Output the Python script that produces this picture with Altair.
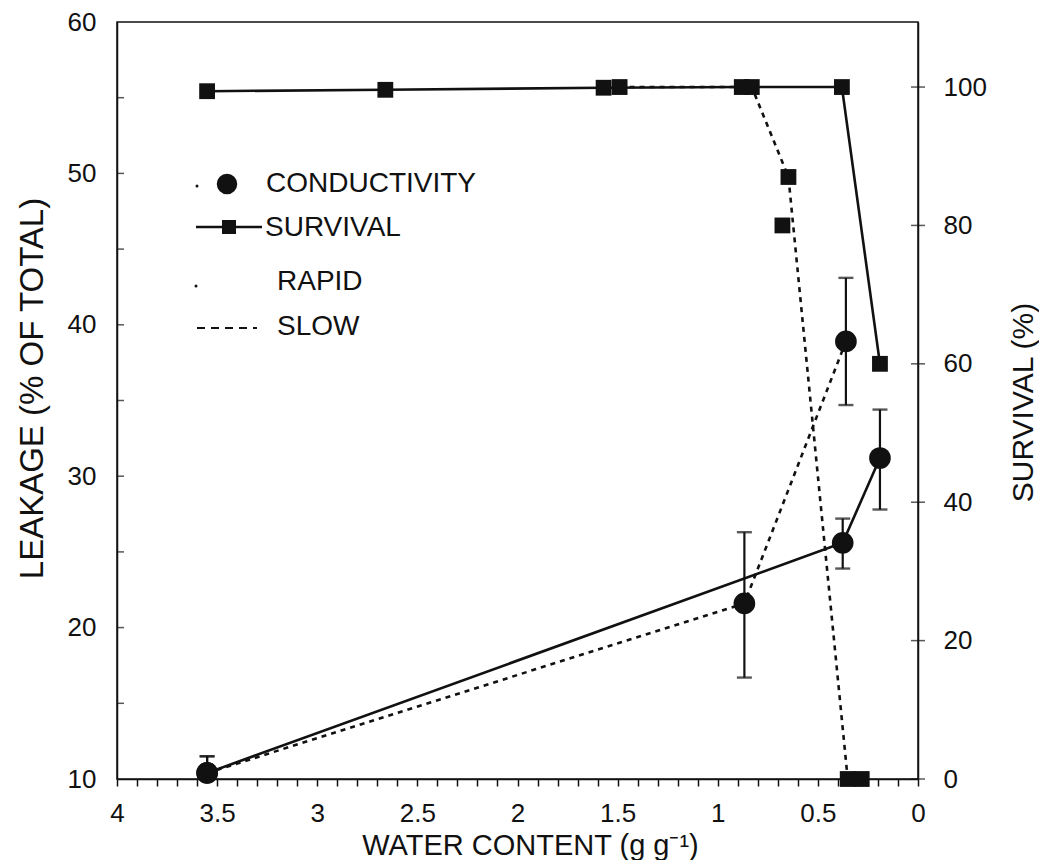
import altair as alt
import pandas as pd

# ---------------- data ----------------
# Conductivity (leakage, % of total) - rapid drying (solid line)
rapid_cond_x = [3.55, 0.376, 0.19]
rapid_cond_y = [10.4, 25.6, 31.2]
rapid_cond_lo = [9.3, 23.9, 27.8]
rapid_cond_hi = [11.5, 27.2, 34.4]

# Conductivity - slow drying (dashed line)
slow_cond_x = [3.55, 0.867, 0.36]
slow_cond_y = [10.4, 21.6, 38.9]
slow_cond_lo = [9.3, 16.7, 34.7]
slow_cond_hi = [11.5, 26.3, 43.1]

# Survival (%) - rapid drying (solid line)
rapid_surv_x = [3.55, 2.66, 1.57, 0.88, 0.38, 0.19]
rapid_surv_y = [99.4, 99.6, 99.9, 100, 100, 60]

# Survival (%) - slow drying (dashed line)
slow_surv_x = [1.49, 0.83, 0.647, 0.351, 0.281]
slow_surv_y = [100, 100, 87, 0, 0]

# isolated survival point
extra_surv_x = [0.677]
extra_surv_y = [80]

legend_labels = ["CONDUCTIVITY", "SURVIVAL", "RAPID", "SLOW"]

left_tick_values = [15, 20, 25, 30, 35, 40, 45, 50, 55]
left_label_values = [10, 20, 30, 40, 50, 60]
right_tick_values = [0, 20, 40, 60, 80, 100]

FONT = "Liberation Sans"

# ---------------- tables ----------------
rapid_cond = pd.DataFrame({"x": rapid_cond_x, "y": rapid_cond_y, "lo": rapid_cond_lo, "hi": rapid_cond_hi})
slow_cond = pd.DataFrame({"x": slow_cond_x, "y": slow_cond_y, "lo": slow_cond_lo, "hi": slow_cond_hi})
all_cond = pd.concat([rapid_cond, slow_cond], ignore_index=True)
rapid_surv = pd.DataFrame({"x": rapid_surv_x, "y": rapid_surv_y})
slow_surv = pd.DataFrame({"x": slow_surv_x, "y": slow_surv_y})
extra_surv = pd.DataFrame({"x": extra_surv_x, "y": extra_surv_y})
all_surv = pd.concat([rapid_surv, slow_surv, extra_surv], ignore_index=True)
one = pd.DataFrame({"k": [0]})

# ---------------- scales & axes ----------------
xs = alt.Scale(domain=[0, 4], reverse=True, nice=False, zero=False)
yl = alt.Scale(domain=[10, 60], nice=False, zero=False)
yr = alt.Scale(domain=[0, 109.4], nice=False, zero=False)

x_axis = alt.Axis(
    tickCount=40,
    labelExpr="round(datum.value*10) % 5 == 0 ? format(datum.value, '~g') : ''",
    tickSize=7, tickWidth=1.5, labelPadding=14, labelFontSize=26,
    labelOverlap=False, labelFlush=False,
    title="WATER CONTENT (g g⁻¹)", titleFontSize=29,
    titleX=413, titleY=75, titleAlign="center", titleBaseline="alphabetic",
    grid=False, domainWidth=1.5,
)
yl_axis = alt.Axis(
    values=left_label_values, ticks=False, tickSize=0, labelPadding=21,
    labelFontSize=26, labelOverlap=False,
    title="LEAKAGE (% OF TOTAL)", titleFontSize=33, titleAngle=270,
    titleX=-85, titleY=366, titleAlign="center", titleBaseline="middle",
    grid=False, domainWidth=1.5,
)
yr_axis = alt.Axis(
    orient="right", values=right_tick_values, ticks=False, tickSize=0,
    labelPadding=25, labelFontSize=26, labelOverlap=False,
    title="SURVIVAL (%)", titleFontSize=30, titleAngle=270,
    titleX=105, titleY=380, titleAlign="center", titleBaseline="middle",
    grid=False, domainWidth=1.5,
)


def X(f="x"):
    return alt.X(f, type="quantitative", scale=xs, axis=x_axis)


def XD(v):
    return alt.XDatum(v, type="quantitative", scale=xs, axis=x_axis)


def YL(f):
    return alt.Y(f, type="quantitative", scale=yl, axis=yl_axis)


def YR(f):
    return alt.Y(f, type="quantitative", scale=yr, axis=yr_axis)


INK = "#111111"

# ---------------- left (leakage) layers ----------------
rapid_line = alt.Chart(rapid_cond).mark_line(color=INK, strokeWidth=2.6).encode(x=X(), y=YL("y"))
slow_line = alt.Chart(slow_cond).mark_line(color=INK, strokeWidth=2.6, strokeDash=[5, 5]).encode(x=X(), y=YL("y"))
err_rule = alt.Chart(all_cond).mark_rule(color=INK, strokeWidth=2.2, clip=True).encode(
    x=X(), y=YL("lo"), y2=alt.Y2("hi"))
cap_lo = alt.Chart(all_cond).mark_tick(color=INK, orient="horizontal", size=15, thickness=2.4, clip=True).encode(
    x=X(), y=YL("lo"))
cap_hi = alt.Chart(all_cond).mark_tick(color=INK, orient="horizontal", size=15, thickness=2.4, clip=True).encode(
    x=X(), y=YL("hi"))
circles = alt.Chart(all_cond).mark_circle(color=INK, size=470, opacity=1).encode(x=X(), y=YL("y"))
left_ticks = alt.Chart(pd.DataFrame({"v": left_tick_values})).mark_tick(
    color=INK, orient="horizontal", size=7, thickness=1.5, xOffset=3.5).encode(
    x=XD(4), y=YL("v"))

# legend
leg_dot1 = alt.Chart(one).mark_circle(color=INK, size=9, opacity=1).encode(x=alt.value(80), y=alt.value(164))
leg_circle = alt.Chart(one).mark_circle(color=INK, size=420, opacity=1).encode(x=alt.value(110), y=alt.value(162))
leg_line = alt.Chart(one).mark_rule(color=INK, strokeWidth=2.6).encode(
    x=alt.value(79), x2=alt.value(145), y=alt.value(205))
leg_square = alt.Chart(one).mark_square(color=INK, size=196, opacity=1).encode(x=alt.value(112), y=alt.value(205))
leg_dot2 = alt.Chart(one).mark_circle(color=INK, size=9, opacity=1).encode(x=alt.value(79), y=alt.value(264))
leg_dash = alt.Chart(one).mark_rule(color=INK, strokeWidth=2, strokeDash=[8, 6]).encode(
    x=alt.value(80), x2=alt.value(140), y=alt.value(306))


def leg_text(label, px, py):
    return alt.Chart(pd.DataFrame({"t": [label]})).mark_text(
        align="left", baseline="middle", font=FONT, fontSize=28, color=INK).encode(
        x=alt.value(px), y=alt.value(py), text="t")


leg_t1 = leg_text(legend_labels[0], 149, 162)
leg_t2 = leg_text(legend_labels[1], 148, 206)
leg_t3 = leg_text(legend_labels[2], 160, 260)
leg_t4 = leg_text(legend_labels[3], 160, 305)

left = alt.layer(
    left_ticks, rapid_line, slow_line, err_rule, cap_lo, cap_hi, circles,
    leg_dot1, leg_circle, leg_line, leg_square, leg_dot2, leg_dash,
    leg_t1, leg_t2, leg_t3, leg_t4,
)

# ---------------- right (survival) layers ----------------
surv_rapid_line = alt.Chart(rapid_surv).mark_line(color=INK, strokeWidth=2.6).encode(x=X(), y=YR("y"))
surv_slow_line = alt.Chart(slow_surv).mark_line(color=INK, strokeWidth=2.6, strokeDash=[5, 5]).encode(x=X(), y=YR("y"))
squares = alt.Chart(all_surv).mark_square(color=INK, size=250, opacity=1).encode(x=X(), y=YR("y"))
right_ticks = alt.Chart(pd.DataFrame({"v": right_tick_values})).mark_tick(
    color=INK, orient="horizontal", size=14, thickness=1.5).encode(x=XD(0), y=YR("v"))

right = alt.layer(right_ticks, surv_rapid_line, surv_slow_line, squares)

chart = (
    alt.layer(left, right)
    .resolve_scale(y="independent")
    .properties(
        width=801, height=757,
        padding={"left": 109, "top": 14, "right": 121, "bottom": 81},
        autosize=alt.AutoSizeParams(type="none"),
        background="white",
    )
    .configure_view(stroke=INK, strokeWidth=1.5)
    .configure_axis(
        labelFont=FONT, titleFont=FONT, labelColor=INK, titleColor=INK,
        domainColor=INK, tickColor=INK, titleFontWeight="normal",
    )
)

chart.save("out.html", embed_options={"renderer": "svg", "actions": False})
